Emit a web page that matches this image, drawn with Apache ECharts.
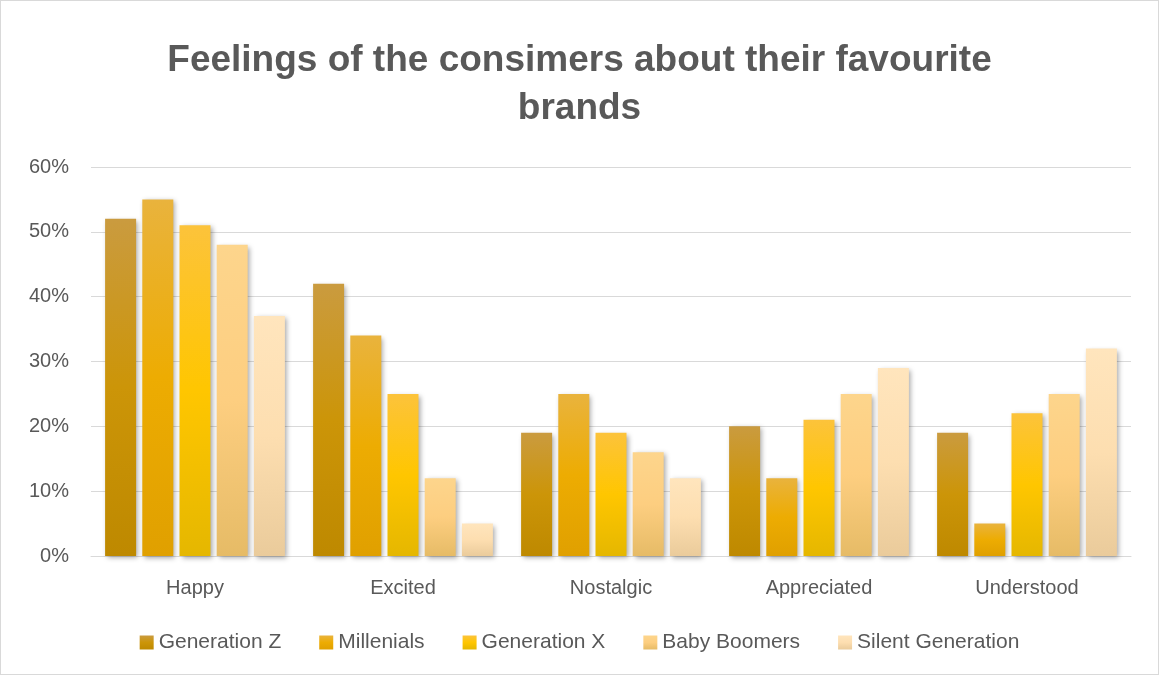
<!DOCTYPE html>
<html>
<head>
<meta charset="utf-8">
<script src="https://cdn.jsdelivr.net/npm/echarts@6/dist/echarts.min.js"></script>
<style>
	html, body {margin: 0; padding: 0; background: #fff;}
	#main {width: 1159px; height: 675px; box-sizing: border-box; border: 1px solid #d9d9d9;}
</style>
</head>
<body>
<div id="main"></div>
<script>
const categories = ['Happy', 'Excited', 'Nostalgic', 'Appreciated', 'Understood'];
const seriesNames = ['Generation Z', 'Millenials', 'Generation X', 'Baby Boomers', 'Silent Generation'];
const genZ = [52, 42, 19, 20, 19];
const millenials = [55, 34, 25, 12, 5];
const genX = [51, 25, 19, 21, 22];
const boomers = [48, 12, 16, 25, 25];
const silent = [37, 5, 12, 29, 32];
const yTicks = [0, 10, 20, 30, 40, 50, 60];

// top / middle / bottom of each bar gradient
const gradStops = [
	['#CA9B3F', '#CC9508', '#BE8900'],
	['#E9B33D', '#EDAC02', '#E0A000'],
	['#FCC33B', '#FFC600', '#E5B700'],
	['#FDD58C', '#FDCE80', '#E6BB66'],
	['#FFE5BD', '#FDDEB0', '#EACB9B']
];

const grad = c => new echarts.graphic.LinearGradient(0, 0, 0, 1, [
	{offset: 0, color: c[0]},
	{offset: 0.5, color: c[1]},
	{offset: 1, color: c[2]}
]);

const chart = echarts.init(document.getElementById('main'), null, {renderer: 'canvas'});
const dataArr = [genZ, millenials, genX, boomers, silent];

const option = {
	animation: false,
	title: {
		text: 'Feelings of the consimers about their favourite\nbrands',
		left: 'center',
		top: 31,
		textStyle: {
			color: '#595959',
			fontSize: 37,
			fontWeight: 'bold',
			fontFamily: 'Liberation Sans',
			lineHeight: 48
		}
	},
	legend: {
		bottom: 16,
		left: 'center',
		itemWidth: 14,
		itemHeight: 14,
		itemGap: 38,
		icon: 'rect',
		data: seriesNames,
		textStyle: {
			color: '#595959',
			fontSize: 21,
			fontFamily: 'Liberation Sans'
		}
	},
	grid: {
		left: 90,
		right: 27,
		top: 166,
		bottom: 118,
		containLabel: false
	},
	xAxis: {
		type: 'category',
		data: categories,
		axisTick: {show: false},
		axisLine: {lineStyle: {color: '#d9d9d9', width: 1}},
		axisLabel: {
			color: '#595959',
			fontSize: 20,
			margin: 22,
			fontFamily: 'Liberation Sans'
		}
	},
	yAxis: {
		type: 'value',
		min: 0,
		max: 60,
		interval: 10,
		axisLine: {show: false},
		axisTick: {show: false},
		splitLine: {lineStyle: {color: '#d9d9d9', width: 1}},
		axisLabel: {
			color: '#595959',
			fontSize: 20,
			margin: 22,
			fontFamily: 'Liberation Sans',
			formatter: v => yTicks.includes(v) ? v + '%' : ''
		}
	},
	series: seriesNames.map((name, i) => ({
		name: name,
		type: 'bar',
		data: dataArr[i],
		barWidth: 31,
		barGap: '20%',
		itemStyle: {
			color: grad(gradStops[i]),
			shadowBlur: 5,
			shadowColor: 'rgba(0,0,0,0.35)',
			shadowOffsetX: 2,
			shadowOffsetY: 2
		}
	}))
};
chart.setOption(option);
</script>
</body>
</html>
